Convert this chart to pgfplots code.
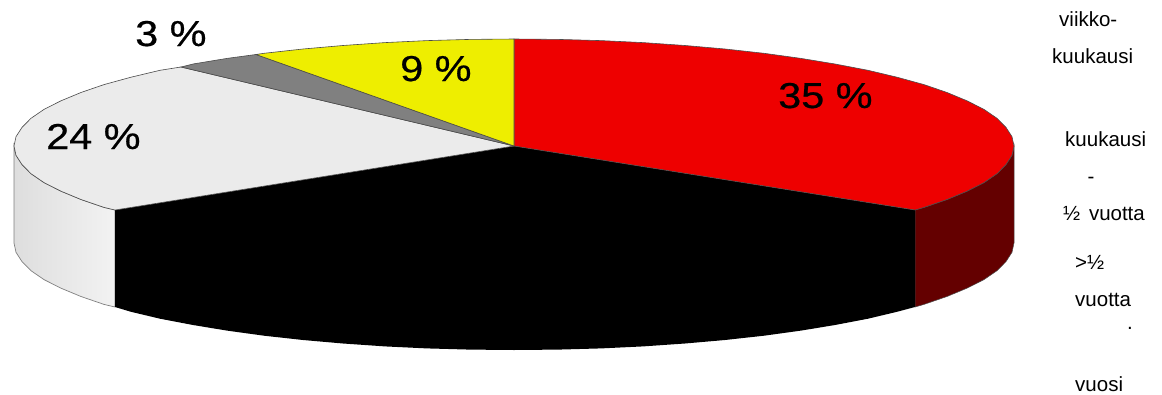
\documentclass[border=0pt]{standalone}
\usepackage{fontspec}
\setmainfont{Liberation Sans}
\newfontfamily\pctfont[FakeBold=0.5]{Liberation Sans}
\usepackage{pgfplots}
\pgfplotsset{compat=1.18}
\definecolor{piered}{HTML}{EE0000}
\definecolor{piereddark}{HTML}{640000}
\definecolor{pieyellow}{HTML}{EEEE00}
\definecolor{piegrey}{HTML}{808080}
\definecolor{pielight}{HTML}{EBEBEB}
\definecolor{rimline}{HTML}{4A4A4A}
\newcommand{\bigpct}[3]{\node[anchor=base west,inner sep=0pt,xscale=1.15,text=black] at (axis cs:#1,#2) {\fontsize{36}{36}\pctfont #3};}
\newcommand{\sidetext}[3]{\node[anchor=base west,inner sep=0pt,text=black] at (axis cs:#1,#2) {\fontsize{20.5}{20.5}\selectfont #3};}
\begin{document}
\begin{tikzpicture}
\begin{axis}[
  scale only axis, width=1162pt, height=394pt,
  xmin=0, xmax=1162, ymin=0, ymax=394,
  y dir=reverse, hide axis, clip=false,
]
% page background
\addplot[fill=white, draw=none] coordinates {(0,0) (1162,0) (1162,394) (0,394)} -- cycle;

% rim: left, light slice
\addplot[left color=black!13, right color=black!5, draw=black!50, line width=0.7pt] coordinates {
  (115,210) (104,207.4) (81,199.5) (61,191.2) (44,182.6) (31,173.7) (22,164.6) (16,155.3) (14,146)
  (14,243) (16,252.3) (22,261.6) (31,270.7) (44,279.6) (61,288.2) (81,296.5) (104,304.4) (115,307)
} -- cycle;

% rim: right, red slice
\addplot[fill=piereddark, draw=black!70, line width=0.5pt] coordinates {
  (1014,146) (1012,155.3) (1006,164.6) (997,173.7) (984,182.6) (967,191.2) (947,199.5) (924,207.4) (915,210)
  (915,307) (924,304.4) (947,296.5) (967,288.2) (984,279.6) (997,270.7) (1006,261.6) (1012,252.3) (1014,243)
} -- cycle;

% black slice, top and rim as one shape
\addplot[fill=black, draw=none] coordinates {
  (514,146) (915,210) (915,307) (897,311.8) (868,318.7) (835,325) (801,330.6) (764,335.7) (725,340)
  (685,343.5) (643,346.4) (601,348.4) (558,349.6) (514,350) (470,349.6) (427,348.4) (385,346.4)
  (343,343.5) (303,340) (264,335.7) (227,330.6) (193,325) (160,318.7) (131,311.8) (115,307) (115,210)
} -- cycle;

% red slice, 35 %
\addplot[fill=piered, draw=black!70, line width=0.6pt] coordinates {
  (514,146) (514,39) (558,39.4) (601,40.6) (643,42.6) (685,45.5) (725,49) (764,53.3) (801,58.4) (835,64)
  (868,70.3) (897,77.2) (924,84.6) (947,92.5) (967,100.8) (984,109.4) (997,118.3) (1006,127.4) (1012,136.7)
  (1014,146) (1012,155.3) (1006,164.6) (997,173.7) (984,182.6) (967,191.2) (947,199.5) (924,207.4) (915,210)
} -- cycle;

% light slice, 24 %
\addplot[fill=pielight, draw=rimline, line width=0.6pt] coordinates {
  (514,146) (115,210) (104,207.4) (81,199.5) (61,191.2) (44,182.6) (31,173.7) (22,164.6) (16,155.3) (14,146)
  (16,136.7) (22,127.4) (31,118.3) (44,109.4) (61,100.8) (81,92.5) (104,84.6) (131,77.2) (160,70.3) (181,67)
} -- cycle;

% grey slice, 3 %
\addplot[fill=piegrey, draw=rimline, line width=0.6pt] coordinates {
  (514,146) (181,67) (193,64) (227,58.4) (256,54.5)
} -- cycle;

% yellow slice, 9 %
\addplot[fill=pieyellow, draw=rimline, line width=0.6pt] coordinates {
  (514,146) (256,54.5) (264,53.3) (303,49) (343,45.5) (385,42.6) (427,40.6) (470,39.4) (514,39)
} -- cycle;

% percentages
\bigpct{135}{46}{3 \%}
\bigpct{400}{81}{9 \%}
\bigpct{46}{149}{24 \%}
\bigpct{778}{108}{35 \%}
\bigpct{465}{233}{29 \%}

% category names
\sidetext{1059}{26}{viikko-}
\sidetext{1052}{63}{kuukausi}
\sidetext{1065}{146}{kuukausi}
\sidetext{1087.5}{183}{-}
\sidetext{1063}{220}{½\hspace{3pt} vuotta}
\sidetext{1075}{269}{>½}
\sidetext{1075}{306}{vuotta}
\sidetext{1127}{329}{.}
\sidetext{1075}{391}{vuosi}
\end{axis}
\end{tikzpicture}
\end{document}
